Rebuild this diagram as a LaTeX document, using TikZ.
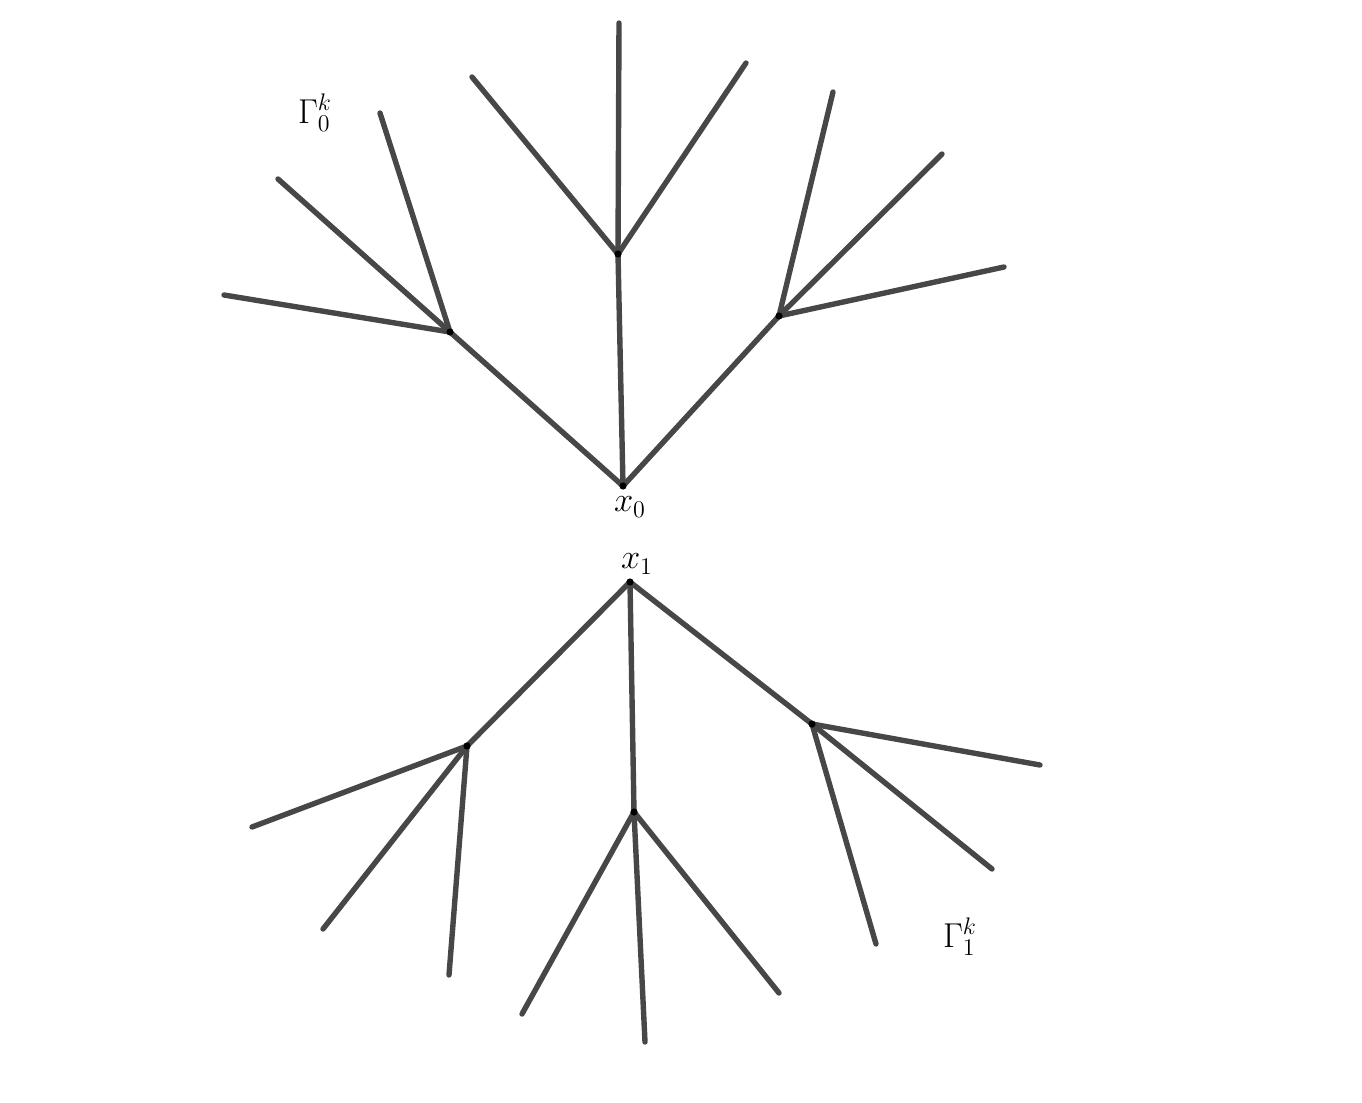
\documentclass[tikz,border=0pt]{standalone}
\begin{document}
\begin{tikzpicture}[x=0.5pt,y=-0.5pt,
  edge/.style={draw=black!72, line width=2.7pt, line cap=round},
  vtx/.style={circle, fill=black, inner sep=0pt, minimum size=3.6pt},
  lbl/.style={inner sep=0pt, font=\fontsize{18.5}{22}\selectfont}]
\useasboundingbox (0,0) rectangle (1362,1103);
% top tree
\coordinate (x0) at (623,486);
\coordinate (A) at (450,332);
\coordinate (B) at (618,254);
\coordinate (C) at (779,316);
\coordinate (a1) at (224,295);
\coordinate (a2) at (278,179);
\coordinate (a3) at (380,113);
\coordinate (b1) at (472,77);
\coordinate (b2) at (619,23);
\coordinate (b3) at (746,63);
\coordinate (c1) at (833,92);
\coordinate (c2) at (942,154);
\coordinate (c3) at (1004,267);
\foreach \u/\v in {x0/A,x0/B,x0/C,A/a1,A/a2,A/a3,B/b1,B/b2,B/b3,C/c1,C/c2,C/c3}
  \draw[edge] (\u) -- (\v);
% bottom tree
\coordinate (x1) at (630,582);
\coordinate (D) at (467,746);
\coordinate (E) at (634,812);
\coordinate (F) at (812,724);
\coordinate (d1) at (252,827);
\coordinate (d2) at (323,929);
\coordinate (d3) at (449,975);
\coordinate (e1) at (522,1014);
\coordinate (e2) at (645,1042);
\coordinate (e3) at (779,993);
\coordinate (f1) at (1040,765);
\coordinate (f2) at (992,869);
\coordinate (f3) at (876,944);
\foreach \u/\v in {x1/D,x1/E,x1/F,D/d1,D/d2,D/d3,E/e1,E/e2,E/e3,F/f1,F/f2,F/f3}
  \draw[edge] (\u) -- (\v);
% vertex dots
\foreach \p in {x0,A,B,C,x1,D,E,F}
  \node[vtx] (dot\p) at (\p) {};
% labels
\node[lbl] (lx0) at (630,507) {$x_0$};
\node[lbl] (lx1) at (637,564) {$x_1$};
\node[lbl] (g0) at (315,113) {$\Gamma_0^k$};
\node[lbl] (g1) at (960,937) {$\Gamma_1^k$};
\end{tikzpicture}
\end{document}
